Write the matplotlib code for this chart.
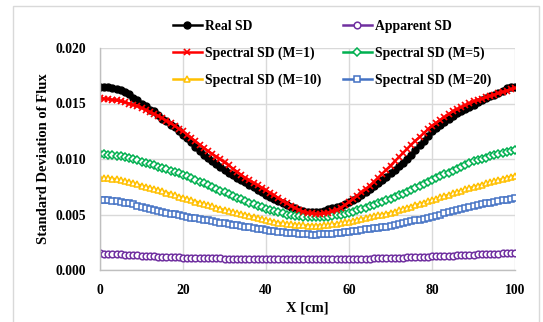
import numpy as np
import matplotlib
matplotlib.use("Agg")
import matplotlib.pyplot as plt
from matplotlib.patches import Rectangle
from matplotlib.ticker import FormatStrFormatter

# positions along the rod, 1 cm step
x_cm = np.arange(0, 101)

# values, in units of 1e-3
real_sd = [16.50, 16.50, 16.45, 16.38, 16.28, 16.26, 16.05, 15.90, 15.48, 15.36, 14.92,
           14.74, 14.45, 14.28, 13.95, 13.62, 13.40, 13.08, 12.85, 12.50, 12.20,
           11.85, 11.52, 11.10, 10.70, 10.35, 10.05, 9.78, 9.52, 9.25, 9.00,
           8.78, 8.55, 8.32, 8.12, 7.90, 7.68, 7.46, 7.22, 7.00, 6.80,
           6.62, 6.42, 6.25, 6.05, 5.90, 5.72, 5.55, 5.40, 5.32, 5.25,
           5.22, 5.20, 5.25, 5.35, 5.48, 5.58, 5.70, 5.80, 5.95, 6.10,
           6.28, 6.50, 6.74, 7.00, 7.30, 7.55, 7.82, 8.10, 8.40, 8.70,
           9.02, 9.35, 9.68, 10.02, 10.40, 10.82, 11.25, 11.65, 12.10, 12.50,
           12.80, 13.10, 13.35, 13.62, 13.90, 14.10, 14.30, 14.52, 14.72, 14.90,
           15.10, 15.30, 15.48, 15.65, 15.80, 15.98, 16.15, 16.40, 16.50, 16.45]

apparent_sd = [1.50, 1.48, 1.46, 1.44, 1.42, 1.40, 1.38, 1.36, 1.33, 1.31, 1.28,
               1.26, 1.24, 1.22, 1.21, 1.19, 1.18, 1.16, 1.15, 1.13, 1.12,
               1.11, 1.10, 1.09, 1.08, 1.07, 1.06, 1.06, 1.05, 1.04, 1.03,
               1.03, 1.02, 1.01, 1.01, 1.00, 1.00, 0.99, 0.99, 0.98, 0.97,
               0.97, 0.97, 0.96, 0.96, 0.96, 0.96, 0.95, 0.95, 0.95, 0.95,
               0.95, 0.95, 0.95, 0.96, 0.96, 0.96, 0.97, 0.97, 0.98, 0.98,
               0.99, 1.00, 1.01, 1.02, 1.03, 1.04, 1.05, 1.06, 1.07, 1.08,
               1.09, 1.10, 1.12, 1.13, 1.15, 1.16, 1.18, 1.19, 1.21, 1.22,
               1.24, 1.25, 1.27, 1.29, 1.30, 1.32, 1.34, 1.35, 1.37, 1.38,
               1.40, 1.41, 1.43, 1.45, 1.46, 1.48, 1.50, 1.51, 1.53, 1.55]

spectral_m1 = [15.50, 15.45, 15.40, 15.34, 15.28, 15.20, 15.10, 15.00, 14.90, 14.75, 14.60,
               14.42, 14.24, 14.06, 13.88, 13.70, 13.46, 13.22, 12.98, 12.74, 12.50,
               12.20, 11.90, 11.60, 11.30, 11.00, 10.74, 10.48, 10.22, 9.96, 9.70,
               9.42, 9.14, 8.86, 8.58, 8.30, 8.08, 7.86, 7.64, 7.42, 7.20,
               6.96, 6.72, 6.48, 6.24, 6.00, 5.80, 5.60, 5.40, 5.27, 5.15,
               5.10, 5.05, 5.06, 5.10, 5.18, 5.28, 5.40, 5.62, 5.86, 6.10,
               6.40, 6.70, 7.00, 7.30, 7.60, 7.96, 8.32, 8.68, 9.04, 9.40,
               9.78, 10.16, 10.54, 10.92, 11.30, 11.64, 11.98, 12.32, 12.66, 13.00,
               13.26, 13.52, 13.78, 14.04, 14.30, 14.48, 14.66, 14.84, 15.02, 15.20,
               15.32, 15.44, 15.56, 15.68, 15.80, 15.92, 16.04, 16.16, 16.28, 16.40]

spectral_m5 = [10.45, 10.43, 10.40, 10.36, 10.31, 10.25, 10.18, 10.10, 10.02, 9.90, 9.75,
               9.64, 9.53, 9.42, 9.30, 9.18, 9.06, 8.94, 8.82, 8.71, 8.60,
               8.44, 8.28, 8.12, 7.96, 7.80, 7.64, 7.48, 7.32, 7.16, 7.00,
               6.84, 6.68, 6.52, 6.36, 6.20, 6.06, 5.92, 5.78, 5.64, 5.50,
               5.40, 5.30, 5.20, 5.10, 5.00, 4.94, 4.88, 4.83, 4.79, 4.75,
               4.74, 4.74, 4.75, 4.77, 4.80, 4.86, 4.92, 4.99, 5.07, 5.15,
               5.27, 5.39, 5.51, 5.63, 5.76, 5.89, 6.02, 6.14, 6.27, 6.40,
               6.56, 6.72, 6.88, 7.05, 7.22, 7.39, 7.56, 7.74, 7.92, 8.10,
               8.27, 8.44, 8.61, 8.78, 8.95, 9.12, 9.29, 9.46, 9.63, 9.80,
               9.91, 10.02, 10.13, 10.24, 10.35, 10.45, 10.55, 10.64, 10.72, 10.80]

spectral_m10 = [8.30, 8.29, 8.26, 8.22, 8.17, 8.10, 8.02, 7.93, 7.83, 7.72, 7.60,
                7.50, 7.40, 7.30, 7.20, 7.10, 6.98, 6.86, 6.74, 6.62, 6.50,
                6.39, 6.28, 6.17, 6.06, 5.95, 5.84, 5.73, 5.62, 5.51, 5.40,
                5.31, 5.22, 5.13, 5.04, 4.95, 4.86, 4.77, 4.68, 4.59, 4.50,
                4.42, 4.34, 4.27, 4.21, 4.15, 4.11, 4.07, 4.04, 4.02, 4.00,
                3.99, 3.99, 4.00, 4.02, 4.05, 4.10, 4.15, 4.21, 4.28, 4.35,
                4.43, 4.51, 4.59, 4.67, 4.75, 4.83, 4.91, 4.99, 5.07, 5.15,
                5.26, 5.37, 5.48, 5.60, 5.72, 5.84, 5.96, 6.07, 6.19, 6.30,
                6.42, 6.54, 6.66, 6.78, 6.90, 7.02, 7.14, 7.26, 7.38, 7.50,
                7.60, 7.70, 7.80, 7.90, 8.00, 8.10, 8.20, 8.30, 8.40, 8.50]

spectral_m20 = [6.30, 6.29, 6.27, 6.24, 6.20, 6.15, 6.08, 6.00, 5.91, 5.81, 5.70,
                5.61, 5.52, 5.43, 5.34, 5.26, 5.18, 5.09, 5.01, 4.93, 4.85,
                4.78, 4.72, 4.65, 4.59, 4.52, 4.46, 4.39, 4.33, 4.26, 4.20,
                4.14, 4.08, 4.02, 3.96, 3.90, 3.84, 3.78, 3.72, 3.66, 3.60,
                3.55, 3.50, 3.45, 3.40, 3.35, 3.32, 3.29, 3.26, 3.23, 3.20,
                3.19, 3.19, 3.20, 3.22, 3.25, 3.28, 3.32, 3.36, 3.40, 3.45,
                3.50, 3.55, 3.60, 3.65, 3.70, 3.75, 3.80, 3.85, 3.90, 3.95,
                4.03, 4.11, 4.20, 4.28, 4.37, 4.46, 4.54, 4.63, 4.71, 4.80,
                4.90, 5.00, 5.10, 5.20, 5.30, 5.40, 5.50, 5.60, 5.70, 5.80,
                5.87, 5.94, 6.01, 6.08, 6.15, 6.22, 6.28, 6.34, 6.40, 6.45]

plt.rcParams['font.family'] = ['Liberation Serif', 'DejaVu Serif']
plt.rcParams['font.weight'] = 'bold'

fig = plt.figure(figsize=(5.43, 3.22), dpi=100)
ax = fig.add_axes([100/543, 52/322, 415/543, 222/322])

# outer chart border
fig.patches.append(Rectangle((13/543, -0.02), 526/543, 1 - 6/322 + 0.02,
                             transform=fig.transFigure, fill=False,
                             edgecolor='#D9D9D9', linewidth=1.0))

scale = 1e-3
lines = {}
lines['Real SD'] = ax.plot(x_cm, np.array(real_sd)*scale, '-o', color='black',
                           markersize=5.0, linewidth=1.8, label='Real SD')[0]
lines['Apparent SD'] = ax.plot(x_cm, np.array(apparent_sd)*scale, '-o', color='#7030A0',
                               markerfacecolor='white', markersize=4.8, markeredgewidth=1.1,
                               linewidth=1.8, label='Apparent SD')[0]
lines['M=5'] = ax.plot(x_cm, np.array(spectral_m5)*scale, '-D', color='#00B050',
                       markerfacecolor='white', markersize=4.0, markeredgewidth=1.1,
                       linewidth=1.8, label='Spectral SD (M=5)')[0]
lines['M=10'] = ax.plot(x_cm, np.array(spectral_m10)*scale, '-^', color='#FFC000',
                        markerfacecolor='white', markersize=5.0, markeredgewidth=1.1,
                        linewidth=1.8, label='Spectral SD (M=10)')[0]
lines['M=20'] = ax.plot(x_cm, np.array(spectral_m20)*scale, '-s', color='#4472C4',
                        markerfacecolor='white', markersize=4.6, markeredgewidth=1.1,
                        linewidth=1.8, label='Spectral SD (M=20)')[0]
lines['M=1'] = ax.plot(x_cm, np.array(spectral_m1)*scale, '-x', color='#FF0000',
                       markersize=5.0, markeredgewidth=1.2, linewidth=1.8,
                       label='Spectral SD (M=1)')[0]

ax.set_xlim(0, 100)
ax.set_ylim(0, 0.020)
ax.set_xticks([0, 20, 40, 60, 80, 100])
ax.set_yticks([0, 0.005, 0.010, 0.015, 0.020])
ax.yaxis.set_major_formatter(FormatStrFormatter('%.3f'))
ax.tick_params(length=0, labelsize=9.8, pad=10)
for lbl in ax.get_xticklabels() + ax.get_yticklabels():
    lbl.set_fontweight('bold')

ax.grid(True, color='#D9D9D9', linewidth=1.0)
ax.set_axisbelow(True)
for side in ['top', 'right']:
    ax.spines[side].set_visible(False)
for side in ['left', 'bottom']:
    ax.spines[side].set_color('#BFBFBF')
    ax.spines[side].set_linewidth(1.0)

ax.set_xlabel('X [cm]', fontsize=10.5, fontweight='bold', labelpad=3)
ax.set_ylabel('Standard Deviation of Flux', fontsize=10.5, fontweight='bold', labelpad=4)

order = ['Real SD', 'M=1', 'M=10', 'Apparent SD', 'M=5', 'M=20']
leg = fig.legend([lines[k] for k in order], [lines[k].get_label() for k in order],
                 ncol=2, loc='upper left', bbox_to_anchor=(173/543, 1 - 20/322),
                 frameon=False, handlelength=2.1, handletextpad=0.25,
                 columnspacing=1.6, labelspacing=1.0, borderpad=0, borderaxespad=0,
                 prop={'weight': 'bold', 'size': 9.8})

fig.savefig('out.png', dpi=100)
